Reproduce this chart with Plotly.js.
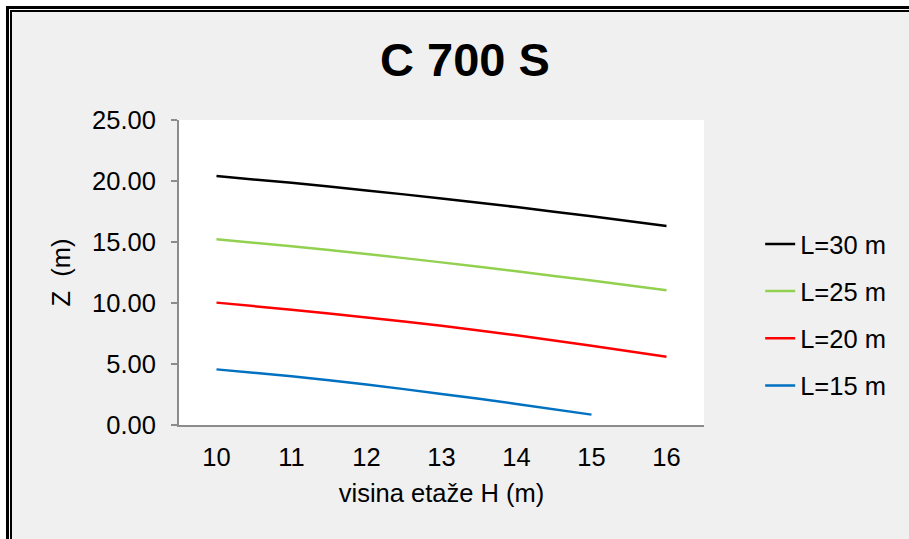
<!DOCTYPE html>
<html>
<head>
<meta charset="utf-8">
<script src="https://cdn.plot.ly/plotly-3.0.1.min.js"></script>
<style>
  html, body { margin: 0; padding: 0; background: #ffffff; width: 909px; height: 539px; overflow: hidden; }
  #frame1 { position: absolute; left: 6px; top: 6px; border-left: 3px solid #000; border-top: 3px solid #000; }
  #frame2 { border-left: 1px solid #fff; border-top: 1px solid #fff; }
  #frame3 { border-left: 2px solid #000; border-top: 2px solid #000; }
  #chart { width: 897px; height: 527px; }
</style>
</head>
<body>
<div id="frame1"><div id="frame2"><div id="frame3"><div id="chart"></div></div></div></div>
<script>
const chartTitle = "C 700 S";
const xTitle = "visina etaže H (m)";
const yTitle = "Z  (m)";
const heights = [10, 11, 12, 13, 14, 15, 16];
const seriesNames = ["L=30 m", "L=25 m", "L=20 m", "L=15 m"];
const zL30 = [20.40, 19.85, 19.23, 18.57, 17.86, 17.11, 16.31];
const zL25 = [15.22, 14.65, 14.02, 13.33, 12.60, 11.84, 11.04];
const zL20 = [10.03, 9.45, 8.82, 8.13, 7.35, 6.50, 5.60];
const zL15 = [4.56, 3.99, 3.32, 2.55, 1.73, 0.85, null];
const colors = ["#000000", "#92d050", "#ff0000", "#0070c0"];

const seriesData = [zL30, zL25, zL20, zL15];
const font = "Liberation Sans, Arial, sans-serif";
const fs = 25.5;

const traces = seriesData.map((ys, i) => ({
  x: heights,
  y: ys,
  name: seriesNames[i],
  legendgroup: "g" + i,
  type: "scatter",
  mode: "lines",
  line: { color: colors[i], width: 2.5, shape: "spline", smoothing: 0.6 },
  connectgaps: false,
  hoverinfo: "none"
}));

const layout = {
  width: 897,
  height: 527,
  paper_bgcolor: "#f0f0f0",
  plot_bgcolor: "#ffffff",
  margin: { l: 167, r: 205, t: 108, b: 114 },
  font: { family: font, size: fs, color: "#000000" },
  title: {
    text: "<b>" + chartTitle + "</b>",
    font: { family: font, size: 47, color: "#000000" },
    x: 0.505, xanchor: "center",
    y: 0.909, yanchor: "middle", yref: "container"
  },
  xaxis: {
    range: [9.5, 16.5],
    tickvals: heights,
    ticktext: heights.map(String),
    ticks: "",
    ticklabelstandoff: 8,
    showgrid: false,
    zeroline: false,
    showline: true,
    linecolor: "#8c8c8c",
    linewidth: 2,
    tickfont: { family: font, size: fs, color: "#000000" },
    title: { text: xTitle, font: { family: font, size: fs, color: "#000000" }, standoff: 15 }
  },
  yaxis: {
    range: [0, 25],
    dtick: 5,
    tick0: 0,
    tickformat: ".2f",
    ticks: "outside",
    ticklen: 6,
    tickwidth: 1.5,
    tickcolor: "#8c8c8c",
    ticklabelstandoff: 10,
    showgrid: false,
    zeroline: false,
    showline: true,
    linecolor: "#8c8c8c",
    linewidth: 2,
    tickfont: { family: font, size: fs, color: "#000000" },
    title: { text: yTitle, font: { family: font, size: fs, color: "#000000" }, standoff: 14 }
  },
  showlegend: true,
  legend: {
    x: 1.107, xanchor: "left",
    y: 0.361, yanchor: "middle",
    bgcolor: "rgba(0,0,0,0)",
    font: { family: font, size: fs, color: "#000000" },
    traceorder: "grouped",
    tracegroupgap: 11
  }
};

Plotly.newPlot("chart", traces, layout, { staticPlot: true, displayModeBar: false });
</script>
</body>
</html>
